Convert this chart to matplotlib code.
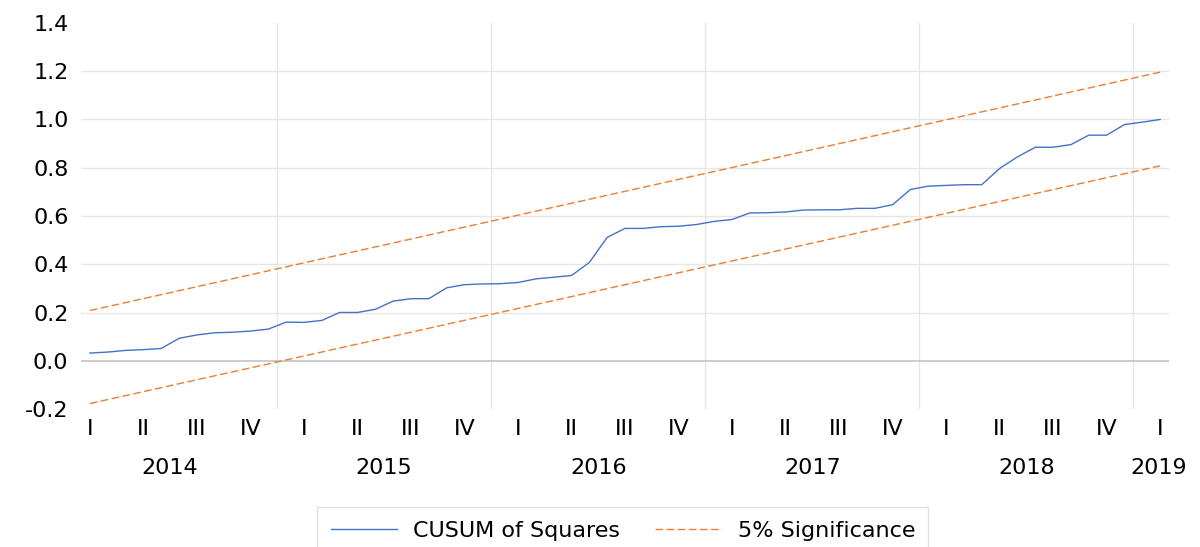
import matplotlib
matplotlib.use("Agg")
import matplotlib.pyplot as plt
import matplotlib.transforms as mtransforms


# DATA: monthly CUSUM of squares, Feb 2014 - Feb 2019
cusum = [0.033, 0.037, 0.044, 0.047, 0.052, 0.094, 0.108, 0.117, 0.119, 0.124,
         0.132, 0.161, 0.160, 0.168, 0.201, 0.201, 0.214, 0.248, 0.258, 0.258,
         0.303, 0.316, 0.319, 0.320, 0.325, 0.340, 0.347, 0.354, 0.408, 0.512,
         0.549, 0.549, 0.556, 0.558, 0.565, 0.578, 0.586, 0.613, 0.614, 0.617,
         0.625, 0.626, 0.626, 0.632, 0.632, 0.647, 0.710, 0.724, 0.727, 0.730,
         0.730, 0.797, 0.845, 0.885, 0.885, 0.896, 0.935, 0.935, 0.979, 0.989,
         1.000]

# 5% significance bands (straight lines, start and end values)
upper_band = [0.209, 1.196]
lower_band = [-0.176, 0.808]

quarter_labels = ['I', 'II', 'III', 'IV'] * 5 + ['I']
years = ['2014', '2015', '2016', '2017', '2018', '2019']
year_pos = [4.5, 16.5, 28.5, 40.5, 52.5, 59.9]
year_bounds = [10.5, 22.5, 34.5, 46.5, 58.5]

BLUE = '#4472C4'
ORANGE = '#ED7D31'
GRID = '#e6e6e6'
FS = 16

plt.rcParams['font.family'] = ['DejaVu Sans']

fig = plt.figure(figsize=(12, 5.47), dpi=100)
ax = fig.add_axes([0.0675, 0.2517, 0.9067, 0.7065])

n = len(cusum)
xs = list(range(n))

# GRID
for b in year_bounds:
    ax.axvline(b, color=GRID, lw=1.0, zorder=0)
for v in [0.2, 0.4, 0.6, 0.8, 1.0, 1.2]:
    ax.axhline(v, color=GRID, lw=1.0, zorder=0)
ax.axhline(0.0, color='#c8c8c8', lw=1.3, zorder=1)

# LINES
ax.plot(xs, cusum, color=BLUE, lw=1.0, label='CUSUM of Squares', zorder=3)
band_x = [xs[0], xs[-1]]
ax.plot(band_x, upper_band, color=ORANGE, lw=1.0, dashes=(5.5, 2.5),
        label='5% Significance', zorder=2)
ax.plot(band_x, lower_band, color=ORANGE, lw=1.0, dashes=(5.5, 2.5), zorder=2)

ax.set_xlim(-0.5, n - 0.5)
ax.set_ylim(-0.2, 1.4)

ax.set_yticks([-0.2, 0.0, 0.2, 0.4, 0.6, 0.8, 1.0, 1.2, 1.4])
ax.set_yticklabels(['-0.2', '0.0', '0.2', '0.4', '0.6', '0.8', '1.0', '1.2', '1.4'])
ax.set_xticks(xs[::3])
ax.set_xticklabels(quarter_labels)
ax.tick_params(axis='y', length=0, pad=9, labelsize=FS)
ax.tick_params(axis='x', length=0, pad=7, labelsize=FS)

for s in ax.spines.values():
    s.set_visible(False)

# YEAR LABELS under the quarters
trans = mtransforms.blended_transform_factory(ax.transData, ax.transAxes)
for yr, p in zip(years, year_pos):
    ax.text(p, -0.152, yr, transform=trans, ha='center', va='center', fontsize=FS)

# LEGEND
leg = fig.legend(loc='upper center', bbox_to_anchor=(0.519, 0.093), ncol=2,
                 fontsize=FS, frameon=True, fancybox=False, handlelength=3.0,
                 handletextpad=0.7, columnspacing=1.6, borderpad=0.6)
leg.get_frame().set_edgecolor('#d9d9d9')
leg.get_frame().set_linewidth(1.0)

fig.savefig('out.png', dpi=100)
